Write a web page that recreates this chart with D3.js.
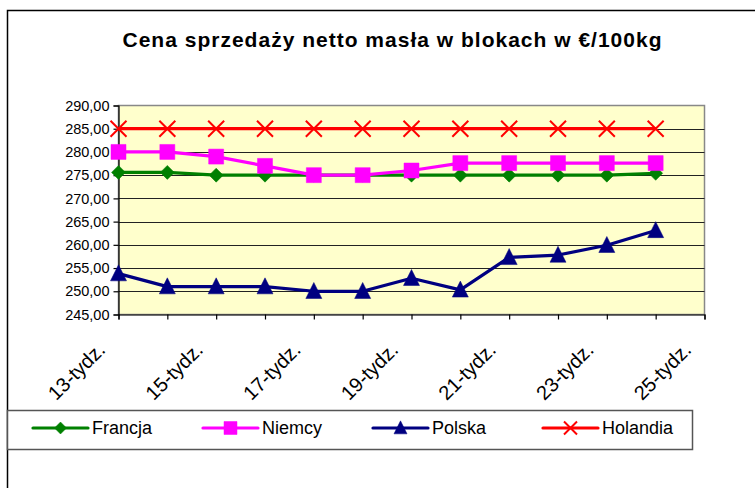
<!DOCTYPE html>
<html>
<head>
<meta charset="utf-8">
<script src="https://cdn.jsdelivr.net/npm/d3@7"></script>
<style>
body { margin: 0; background: #fff; }
text { font-family: "Liberation Sans", Arial, sans-serif; }
</style>
</head>
<body>
<div id="chart"></div>
<script>
const weeks = ["13-tydz.", "14-tydz.", "15-tydz.", "16-tydz.", "17-tydz.", "18-tydz.", "19-tydz.",
    "20-tydz.", "21-tydz.", "22-tydz.", "23-tydz.", "24-tydz.", "25-tydz."];
const shownWeeks = ["13-tydz.", "15-tydz.", "17-tydz.", "19-tydz.", "21-tydz.", "23-tydz.", "25-tydz."];
const francja = [275.6, 275.6, 275, 275, 275, 275, 275, 275, 275, 275, 275, 275.4, null];
const niemcy = [280, 280, 279, 277, 275, 275, 276, 277.6, 277.6, 277.6, 277.6, 277.6, null];
const polska = [253.8, 251, 251, 251, 250, 250, 252.8, 250.3, 257.3, 257.8, 259.9, 263.1, null];
const holandia = [285, 285, 285, 285, 285, 285, 285, 285, 285, 285, 285, 285, null];
const yTicks = [245, 250, 255, 260, 265, 270, 275, 280, 285, 290];
const title = "Cena sprzedaży netto masła w blokach w €/100kg";

function main(){
    let width = 755;
    let height = 488;

    let svg = d3.select("#chart").append("svg")
        .attr("width", width)
        .attr("height", height);

    // outer chart border (only top and left visible)
    svg.append("path")
        .attr("d", "M7.5,488 V10.5 H755")
        .attr("fill", "none")
        .attr("stroke", "#000")
        .attr("stroke-width", 1.5);

    svg.append("text")
        .attr("x", 392)
        .attr("y", 47)
        .attr("text-anchor", "middle")
        .attr("font-size", 21)
        .attr("font-weight", "bold")
        .attr("textLength", 539)
        .attr("lengthAdjust", "spacing")
        .text(title);

    let x = d3.scalePoint().domain(weeks).range([118.5, 704.5]);
    let y = d3.scaleLinear().domain([245, 290]).range([314.5, 105.5]);

    // plot area
    svg.append("rect")
        .attr("x", x.range()[0])
        .attr("y", y(290))
        .attr("width", x.range()[1] - x.range()[0])
        .attr("height", y(245) - y(290))
        .attr("fill", "#ffffcc")
        .attr("stroke", "#888")
        .attr("stroke-width", 1.5);

    svg.append("g")
        .selectAll("line")
        .data(yTicks.filter(function(d){ return d > 245 && d < 290; }))
        .enter()
        .append("line")
        .attr("x1", x.range()[0])
        .attr("x2", x.range()[1])
        .attr("y1", function(d){ return Math.round(y(d)) + 0.5; })
        .attr("y2", function(d){ return Math.round(y(d)) + 0.5; })
        .attr("stroke", "#222")
        .attr("stroke-width", 1.2);

    let fmt = d3.format(".2f");
    let yAxis = d3.axisLeft(y)
        .tickValues(yTicks)
        .tickSize(5)
        .tickPadding(4)
        .tickFormat(function(d){ return fmt(d).replace(".", ","); });

    let yg = svg.append("g")
        .attr("transform", "translate(" + x.range()[0] + ",0)")
        .call(yAxis);
    yg.selectAll("text").attr("font-size", 14.5).attr("fill", "#000");
    yg.selectAll("line, path").attr("stroke", "#000").attr("stroke-width", 1.2);

    let xAxis = d3.axisBottom(x).tickSize(5).tickFormat("");
    let xg = svg.append("g")
        .attr("transform", "translate(0," + y(245) + ")")
        .call(xAxis);
    xg.selectAll("line, path").attr("stroke", "#000").attr("stroke-width", 1.2);

    svg.append("g")
        .selectAll("text")
        .data(shownWeeks)
        .enter()
        .append("text")
        .attr("transform", function(d){
            return "translate(" + (x(d) - 12) + ",351) rotate(-45)";
        })
        .attr("text-anchor", "end")
        .attr("font-size", 20)
        .text(function(d){ return d; });

    const series = [
        {name: "Francja", values: francja, color: "#008000", marker: "diamond"},
        {name: "Niemcy", values: niemcy, color: "#ff00ff", marker: "square"},
        {name: "Polska", values: polska, color: "#000080", marker: "triangle"},
        {name: "Holandia", values: holandia, color: "#ff0000", marker: "cross"}
    ];

    function markerPath(type, s){
        if(type == "diamond") return "M0," + (-s) + "L" + s + ",0L0," + s + "L" + (-s) + ",0Z";
        if(type == "square") return "M" + (-s) + "," + (-s) + "h" + (2*s) + "v" + (2*s) + "h" + (-2*s) + "Z";
        if(type == "triangle") return "M0," + (-s*1.1) + "L" + s + "," + (s*0.9) + "L" + (-s) + "," + (s*0.9) + "Z";
        return "M" + (-s) + "," + (-s) + "L" + s + "," + s + "M" + s + "," + (-s) + "L" + (-s) + "," + s;
    }
    let markerSize = {diamond: 7, square: 7.5, triangle: 8, cross: 8};

    let line = d3.line()
        .defined(function(d){ return d != null; })
        .x(function(d, i){ return x(weeks[i]); })
        .y(function(d){ return y(d); });

    series.forEach(function(s){
        let g = svg.append("g");
        g.append("path")
            .attr("d", line(s.values))
            .attr("fill", "none")
            .attr("stroke", s.color)
            .attr("stroke-width", 3.2)
            .attr("stroke-linejoin", "round");
        g.selectAll(".m")
            .data(s.values.map(function(v, i){ return {v: v, w: weeks[i]}; }).filter(function(d){ return d.v != null; }))
            .enter()
            .append("path")
            .attr("transform", function(d){ return "translate(" + x(d.w) + "," + y(d.v) + ")"; })
            .attr("d", markerPath(s.marker, markerSize[s.marker]))
            .attr("fill", s.marker == "cross" ? "none" : s.color)
            .attr("stroke", s.color)
            .attr("stroke-width", s.marker == "cross" ? 2 : 0.5);
    });

    // legend
    let legend = svg.append("g");
    legend.append("rect")
        .attr("x", 7.5)
        .attr("y", 410.5)
        .attr("width", 685)
        .attr("height", 39)
        .attr("fill", "#fff")
        .attr("stroke", "#555")
        .attr("stroke-width", 1.5);

    let items = legend.selectAll(".item")
        .data(series)
        .enter()
        .append("g")
        .attr("transform", function(d, i){ return "translate(" + (33 + i * 170) + ",428)"; });
    items.append("line")
        .attr("x1", 0).attr("x2", 55)
        .attr("stroke", function(d){ return d.color; })
        .attr("stroke-width", 3.2)
        .attr("stroke-linecap", "round");
    items.append("path")
        .attr("transform", "translate(27.5,0)")
        .attr("d", function(d){ return markerPath(d.marker, d.marker == "diamond" ? 6 : 6.5); })
        .attr("fill", function(d){ return d.marker == "cross" ? "none" : d.color; })
        .attr("stroke", function(d){ return d.color; })
        .attr("stroke-width", function(d){ return d.marker == "cross" ? 2 : 0.5; });
    items.append("text")
        .attr("x", 59)
        .attr("y", 6)
        .attr("font-size", 18)
        .text(function(d){ return d.name; });
}

main();
</script>
</body>
</html>
